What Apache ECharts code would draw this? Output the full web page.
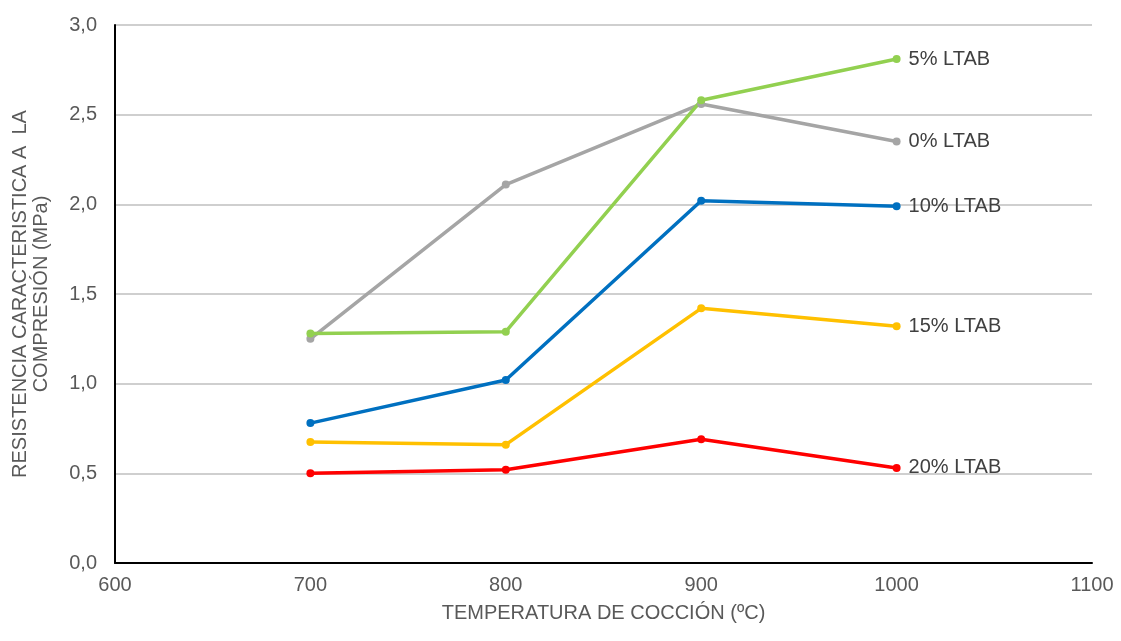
<!DOCTYPE html>
<html>
<head>
<meta charset="utf-8">
<script src="https://cdn.jsdelivr.net/npm/echarts@6/dist/echarts.min.js"></script>
<style>html,body{margin:0;padding:0;background:#fff}#c{width:1121px;height:641px}</style>
</head>
<body>
<div id="c"></div>
<script>
const temps = [700, 800, 900, 1000];
const seriesNames = ['0% LTAB', '5% LTAB', '10% LTAB', '15% LTAB', '20% LTAB'];
const s0 = [1.25, 2.11, 2.56, 2.35];
const s5 = [1.28, 1.29, 2.58, 2.81];
const s10 = [0.78, 1.02, 2.02, 1.99];
const s15 = [0.675, 0.66, 1.42, 1.32];
const s20 = [0.50, 0.52, 0.69, 0.53];
const colors = ['#a5a5a5', '#92d050', '#0070c0', '#ffc000', '#ff0000'];
const values = [s0, s5, s10, s15, s20];

const chart = echarts.init(document.getElementById('c'), null, {renderer: 'canvas'});
const font = 'Liberation Sans, Arial, sans-serif';
const fs = 20;
chart.setOption({
  animation: false,
  grid: {left: 115, right: 29, top: 25, bottom: 78},
  xAxis: {
    type: 'value', min: 600, max: 1100, interval: 100,
    name: 'TEMPERATURA DE COCCIÓN (ºC)', nameLocation: 'middle', nameGap: 40,
    nameTextStyle: {fontFamily: font, fontSize: fs, color: '#595959'},
    axisLine: {show: true, lineStyle: {color: '#000', width: 2}},
    axisTick: {show: false},
    splitLine: {show: false},
    axisLabel: {fontFamily: font, fontSize: fs, color: '#595959', margin: 12,
      formatter: v => String(v)}
  },
  yAxis: {
    type: 'value', min: 0, max: 3, interval: 0.5,
    name: 'RESISTENCIA CARACTERISTICA A  LA\nCOMPRESIÓN (MPa)', nameLocation: 'middle', nameGap: 63,
    nameTextStyle: {fontFamily: font, fontSize: fs, color: '#595959', lineHeight: 21},
    axisLine: {show: true, lineStyle: {color: '#000', width: 2}},
    axisTick: {show: false},
    splitLine: {show: true, lineStyle: {color: '#bfbfbf', width: 1.5}},
    axisLabel: {fontFamily: font, fontSize: fs, color: '#595959', margin: 18,
      formatter: v => v.toFixed(1).replace('.', ',')}
  },
  series: seriesNames.map((n, i) => ({
    name: n, type: 'line',
    data: temps.map((t, j) => [t, values[i][j]]),
    symbol: 'circle', symbolSize: 8,
    lineStyle: {color: colors[i], width: 3.5},
    itemStyle: {color: colors[i]},
    endLabel: {show: true, formatter: '{a}', distance: 12,
      fontFamily: font, fontSize: fs, color: '#404040'}
  }))
});
</script>
</body>
</html>
